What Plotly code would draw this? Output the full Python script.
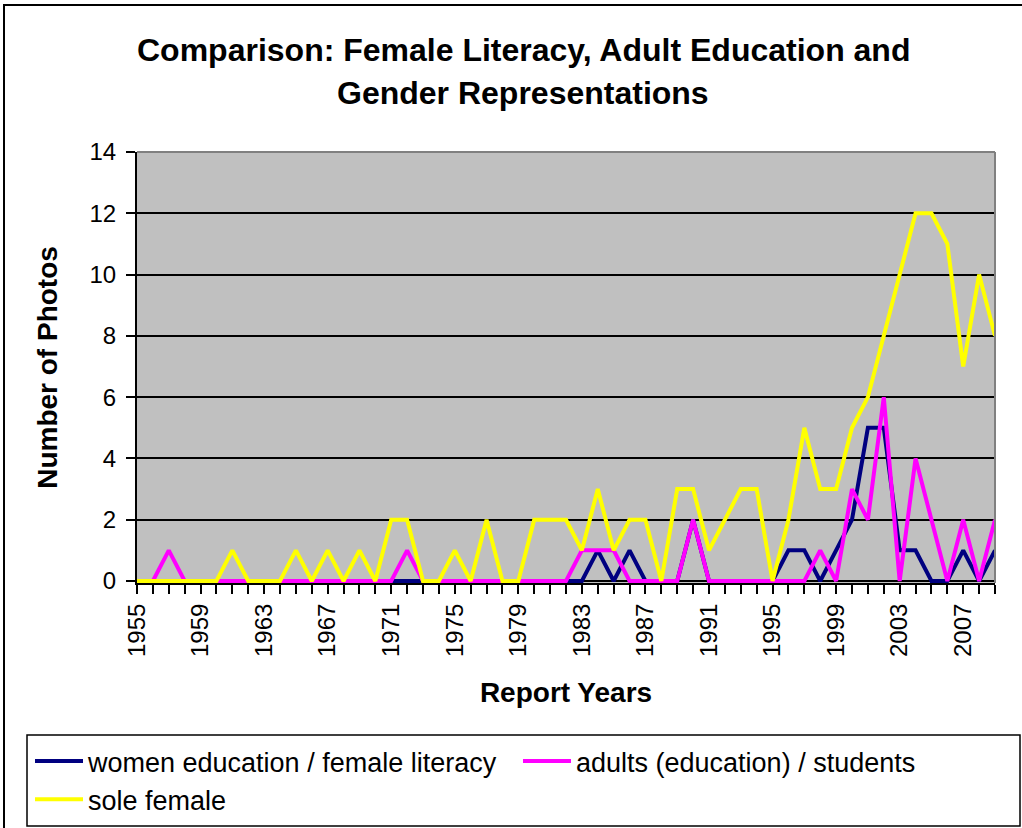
import plotly.graph_objects as go

years = list(range(1955, 2010))

women_education = [0, 0, 0, 0, 0, 0, 0, 0, 0, 0,
                   0, 0, 0, 0, 0, 0, 0, 0, 0, 0,
                   0, 0, 0, 0, 0, 0, 0, 0, 0, 1,
                   0, 1, 0, 0, 0, 2, 0, 0, 0, 0,
                   0, 1, 1, 0, 1, 2, 5, 5, 1, 1,
                   0, 0, 1, 0, 1]

adults_students = [0, 0, 1, 0, 0, 0, 0, 0, 0, 0,
                   0, 0, 0, 0, 0, 0, 0, 1, 0, 0,
                   0, 0, 0, 0, 0, 0, 0, 0, 1, 1,
                   1, 0, 0, 0, 0, 2, 0, 0, 0, 0,
                   0, 0, 0, 1, 0, 3, 2, 6, 0, 4,
                   2, 0, 2, 0, 2]

sole_female = [0, 0, 0, 0, 0, 0, 1, 0, 0, 0,
               1, 0, 1, 0, 1, 0, 2, 2, 0, 0,
               1, 0, 2, 0, 0, 2, 2, 2, 1, 3,
               1, 2, 2, 0, 3, 3, 1, 2, 3, 3,
               0, 2, 5, 3, 3, 5, 6, 8, 10, 12,
               12, 11, 7, 10, 8]

series_names = ["women education / female literacy",
                "adults (education) / students",
                "sole female"]
series_colors = ["#000080", "#FF00FF", "#FFFF00"]

FONT = "Liberation Sans, Arial, sans-serif"

# pixel geometry of plot area (bottom extended 2px so lines at 0 are not clipped)
L, R, T, B = 137, 995, 152, 583
W, H = 1022, 828
pw, ph = R - L, B - T
y_low = -2 * 14 / (581 - 152)


def px(x):
    return (x - L) / pw


def py(y):
    return (B - y) / ph


fig = go.Figure()
for name, vals, col in zip(series_names, [women_education, adults_students, sole_female], series_colors):
    fig.add_trace(go.Scatter(x=years, y=vals, mode="lines", name=name,
                             line=dict(color=col, width=4), cliponaxis=False))

fig.update_layout(
    width=W, height=H,
    margin=dict(l=L, r=W - R, t=T, b=H - B, autoexpand=False),
    paper_bgcolor="white",
    plot_bgcolor="#C0C0C0",
    font=dict(family=FONT, color="black"),
    showlegend=True,
    legend=dict(orientation="h", x=px(30), y=py(737), xanchor="left", yanchor="top",
                font=dict(size=27, family=FONT), bgcolor="rgba(0,0,0,0)",
                itemwidth=48,
                entrywidth=425, entrywidthmode="pixels", traceorder="normal"),
)

fig.update_xaxes(
    range=[1955, 2009], tickmode="linear", tick0=1955, dtick=4,
    tickangle=-90, tickfont=dict(size=24, family=FONT),
    ticks="outside", ticklen=9, tickwidth=1.5, tickcolor="black",
    minor=dict(dtick=1, ticks="outside", ticklen=9, tickwidth=1.5, tickcolor="black", showgrid=False),
    showline=True, linecolor="black", linewidth=2, showgrid=False, zeroline=False,
    title=dict(text="<b>Report Years</b>", font=dict(size=28, family=FONT), standoff=26),
)
fig.update_yaxes(
    range=[y_low, 14], tickmode="linear", tick0=0, dtick=2,
    tickfont=dict(size=24, family=FONT),
    ticks="outside", ticklen=9, tickwidth=1.5, tickcolor="black", ticklabelstandoff=5,
    showline=True, linecolor="black", linewidth=2,
    showgrid=True, gridcolor="black", gridwidth=1.5, zeroline=False,
    title=dict(text="<b>Number of Photos</b>", font=dict(size=28, family=FONT), standoff=24),
)

# title lines
fig.add_annotation(text="<b>Comparison: Female Literacy, Adult Education and</b>",
                   xref="paper", yref="paper", x=px(523), y=py(50), showarrow=False,
                   font=dict(size=32, family=FONT), xanchor="center", yanchor="middle")
fig.add_annotation(text="<b>Gender Representations</b>",
                   xref="paper", yref="paper", x=px(523), y=py(93), showarrow=False,
                   font=dict(size=32, family=FONT), xanchor="center", yanchor="middle")

# plot area border (gray top/right)
fig.add_shape(type="line", xref="paper", yref="paper", x0=0, x1=1, y0=1, y1=1,
              line=dict(color="#808080", width=2))
fig.add_shape(type="line", xref="paper", yref="paper", x0=1, x1=1, y0=0, y1=1,
              line=dict(color="#808080", width=2))
# legend box
fig.add_shape(type="rect", xref="paper", yref="paper", x0=px(27), x1=px(1020), y0=py(826), y1=py(735),
              line=dict(color="black", width=1.5))
# outer chart border
fig.add_shape(type="rect", xref="paper", yref="paper", x0=px(4), x1=px(1040), y0=py(860), y1=py(5),
              line=dict(color="black", width=2))

fig.write_html("out.html", config={"displayModeBar": False},
               post_script="document.body.style.margin='0px';")
